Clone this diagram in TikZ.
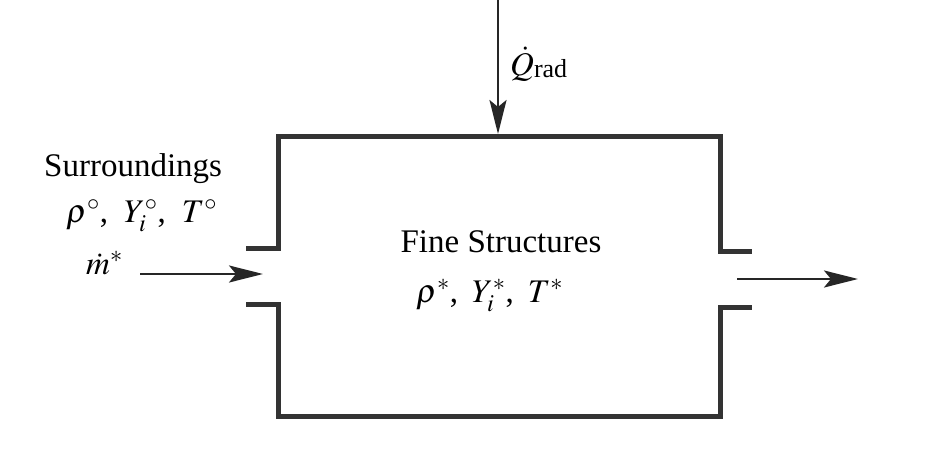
\documentclass[tikz,border=0pt]{standalone}
\usepackage{mathptmx}
\usepackage{fontspec}
\setmainfont{Liberation Serif}
\usetikzlibrary{arrows.meta}
\begin{document}
\begin{tikzpicture}[x=1pt,y=-1pt,
  wall/.style={line width=5pt, draw=black!80, line cap=butt, line join=miter},
  flow/.style={line width=2.6pt, draw=black!85, -{Stealth[length=34pt,width=17pt,inset=7pt]}},
  lbl/.style={font=\fontsize{33}{38}\selectfont, inner sep=0pt}]
\useasboundingbox (0,0) rectangle (950,460);
\fill[white] (0,0) rectangle (950,460);
% box walls
\coordinate (tl) at (278,136);
\coordinate (tr) at (720,136);
\coordinate (bl) at (278,416);
\coordinate (br) at (720,416);
\coordinate (lu) at (246,248);
\coordinate (ll) at (246,304);
\coordinate (ru) at (752,251);
\coordinate (rl) at (752,307);
\draw[wall] (lu) -| (tl) -- (tr) |- (ru);
\draw[wall] (ll) -| (bl) -- (br) |- (rl);
% arrows
\coordinate (qs) at (498,0);
\coordinate (qe) at (498,134);
\draw[flow] (qs) -- (qe);
\coordinate (ms) at (140,274);
\coordinate (me) at (263,274);
\draw[flow] (ms) -- (me);
\coordinate (os) at (737,279);
\coordinate (oe) at (858,279);
\draw[flow] (os) -- (oe);
% labels
\node[lbl, anchor=base west] (q) at (510,75) {$\dot{Q}$\raisebox{-0.15ex}{\fontsize{26}{28}\selectfont rad}};
\node[lbl, anchor=base west] (sur) at (44,176) {Surroundings};
\node[lbl, anchor=base west] (sv) at (66,222) {$\rho^{\circ}$,\hspace{16pt}$Y_i^{\circ}$,\hspace{16pt}$T^{\circ}$};
\node[lbl, anchor=base west] (md) at (86,274) {$\dot{m}^{*}$};
\node[lbl, anchor=base] (fs) at (501,252) {Fine Structures};
\node[lbl, anchor=base west] (fv) at (416,302) {$\rho^{*}$,\hspace{14pt}$Y_i^{*}$,\hspace{14pt}$T^{*}$};
\end{tikzpicture}
\end{document}
